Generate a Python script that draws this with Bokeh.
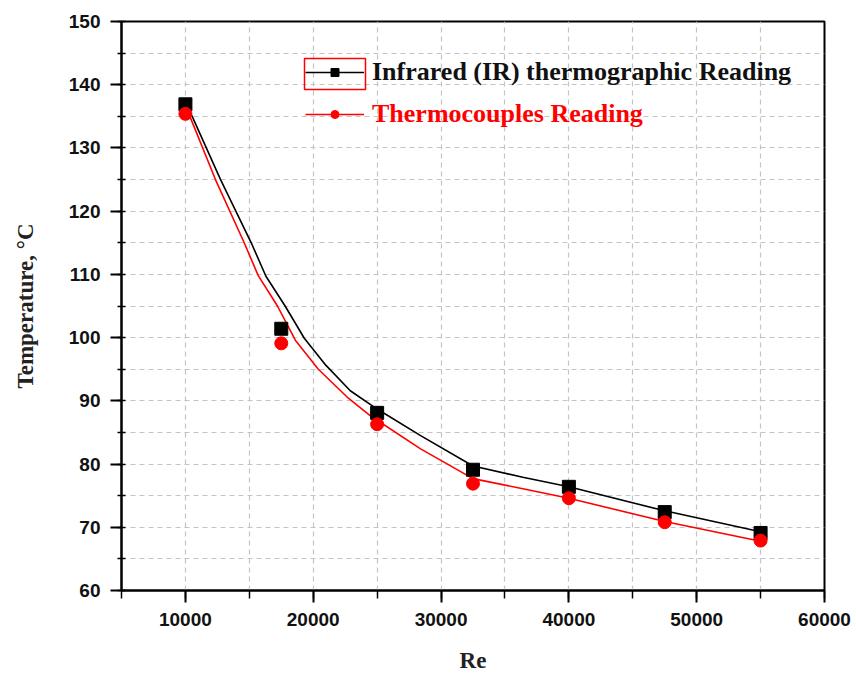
from bokeh.plotting import figure
from bokeh.models import (SingleIntervalTicker, Range1d, Legend, LegendItem, BoxAnnotation)
from bokeh.embed import file_html
from bokeh.resources import INLINE

# ---- data ----
re_points = [10000, 17500, 25000, 32500, 40000, 47500, 55000]
ir_temp = [136.9, 101.4, 88.1, 79.1, 76.4, 72.4, 69.1]
tc_temp = [135.4, 99.1, 86.3, 76.9, 74.6, 70.8, 67.9]

# fitted curves as drawn in the reference
ir_curve_re = [10000, 10530, 12750, 15150, 16300, 17800, 19300, 21000, 22900, 25000,
               28400, 32500, 36400, 40000, 47500, 55000]
ir_curve_t = [136.9, 135.0, 125.0, 115.0, 109.7, 105.0, 99.9, 95.6, 91.6, 88.7,
              84.5, 79.7, 77.9, 76.4, 72.6, 69.3]
tc_curve_re = [10000, 10350, 12350, 14600, 15700, 17200, 18600, 20400, 22650, 24500,
               28400, 32500, 36400, 40000, 47500, 55000]
tc_curve_t = [135.4, 135.0, 125.0, 115.0, 109.8, 105.0, 99.6, 95.0, 90.6, 87.6,
              82.4, 77.7, 76.1, 74.6, 70.9, 67.8]

x_label = "Re"
y_label = "Temperature, \u00b0C"
ir_name = "Infrared (IR) thermographic Reading"
tc_name = "Thermocouples Reading"

W, H = 856, 675
p = figure(width=W, height=H, output_backend="svg", toolbar_location=None,
           x_range=Range1d(5000, 60000), y_range=Range1d(60, 150),
           min_border_left=121, min_border_right=32, min_border_top=21, min_border_bottom=85)
p.background_fill_color = "white"
p.border_fill_color = "white"
p.outline_line_color = "black"
p.outline_line_width = 2

p.xaxis.ticker = SingleIntervalTicker(interval=10000, num_minor_ticks=2)
p.yaxis.ticker = SingleIntervalTicker(interval=10, num_minor_ticks=2)

for ax in (p.xaxis[0], p.yaxis[0]):
    ax.axis_line_color = "black"
    ax.axis_line_width = 2
    ax.major_tick_line_color = "black"
    ax.major_tick_line_width = 2
    ax.minor_tick_line_color = "black"
    ax.minor_tick_line_width = 1.5
    ax.major_tick_in = 0
    ax.major_label_text_font = "Liberation Sans"
    ax.major_label_text_font_style = "bold"
    ax.major_label_text_font_size = "19px"
    ax.major_label_text_color = "#111111"
    ax.axis_label_text_font = "Liberation Serif"
    ax.axis_label_text_font_style = "bold"
    ax.axis_label_text_font_size = "23px"
    ax.axis_label_text_color = "#222222"

p.xaxis.major_tick_out = 12
p.xaxis.minor_tick_out = 8
p.xaxis.minor_tick_in = 0
p.xaxis.major_label_standoff = 10
p.xaxis.axis_label_standoff = 19
p.yaxis.major_tick_out = 11
p.yaxis.minor_tick_out = 4
p.yaxis.minor_tick_in = 4
p.yaxis.major_label_standoff = 10
p.yaxis.axis_label_standoff = 28
p.xaxis.axis_label = x_label
p.yaxis.axis_label = y_label

for g in (p.xgrid[0], p.ygrid[0]):
    g.grid_line_color = None
    g.minor_grid_line_color = "#c4c4c4"
    g.minor_grid_line_dash = "5 4"
    g.minor_grid_line_width = 1.2

ir_line = p.line(ir_curve_re, ir_curve_t, line_color="black", line_width=1.6)
tc_line = p.line(tc_curve_re, tc_curve_t, line_color="#ff0000", line_width=1.6)
ir_pts = p.scatter(re_points, ir_temp, marker="square", size=13, fill_color="black", line_color="black")
tc_pts = p.scatter(re_points, tc_temp, marker="circle", size=13, fill_color="#ff0000", line_color="#ff0000")

def make_legend(label, renderers, color, loc):
    lg = Legend(items=[LegendItem(label=label, renderers=renderers)], location=loc,
                padding=0, margin=0, spacing=0, border_line_alpha=0, background_fill_alpha=0,
                glyph_width=59, glyph_height=20, label_standoff=8, label_height=20,
                label_text_font="Liberation Serif", label_text_font_style="bold",
                label_text_font_size="26px", label_text_color=color)
    p.add_layout(lg, "center")

make_legend(ir_name, [ir_line, ir_pts], "#111111", (184, 503))
make_legend(tc_name, [tc_line, tc_pts], "#ff0000", (184, 461))

p.add_layout(BoxAnnotation(left=183, right=244, bottom=501, top=532,
                           left_units="screen", right_units="screen",
                           bottom_units="screen", top_units="screen",
                           fill_alpha=0, line_color="#ff0000", line_alpha=1.0, line_width=1.5))

open("out.html", "w").write(file_html(p, INLINE))
